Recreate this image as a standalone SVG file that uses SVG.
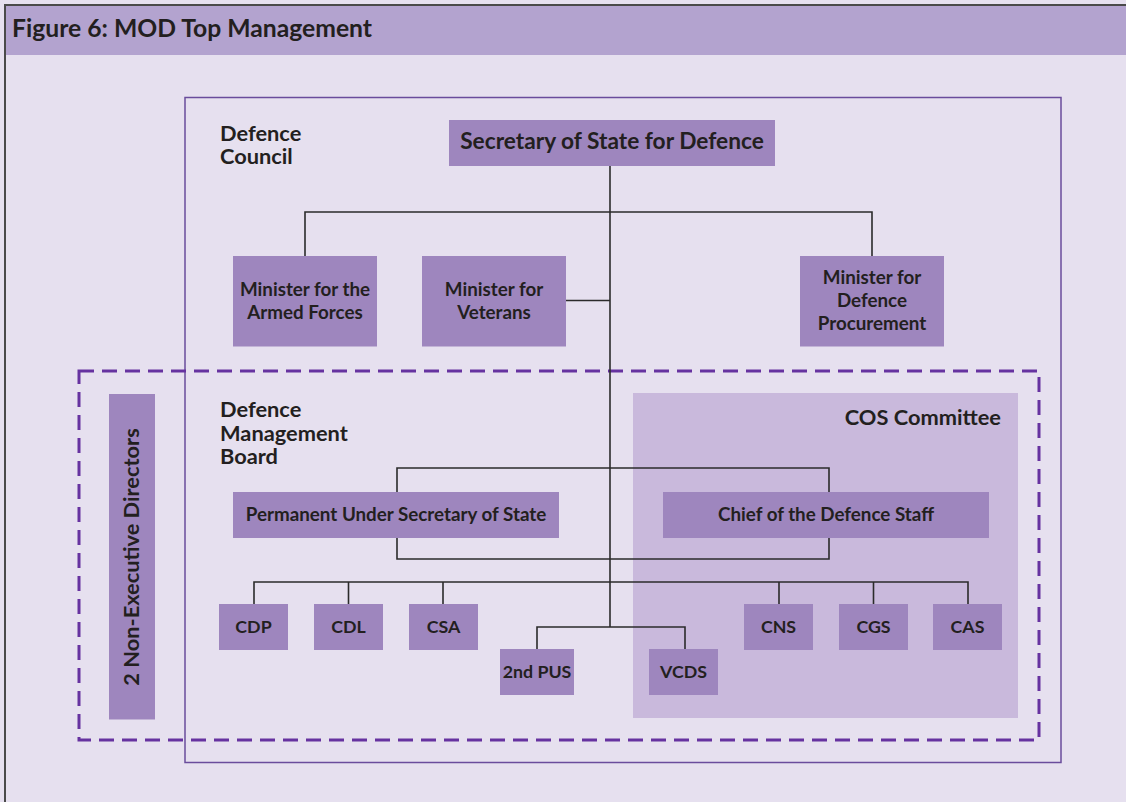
<svg xmlns="http://www.w3.org/2000/svg" width="1126" height="802" viewBox="0 0 1126 802">
<style>
.t{font-family:Lato,"Liberation Sans",sans-serif;font-weight:700;fill:#231F20}
.box{fill:#9E86BE}
.lbl{font-size:18.8px;text-anchor:middle}
.sm{font-size:17.8px;text-anchor:middle}
.grp{font-size:21.8px}
.conn{fill:none;stroke:#2b2b2b;stroke-width:1.6}
</style>
<rect x="0" y="0" width="1126" height="802" fill="#E6E0EF"/>
<rect x="5" y="5" width="1121" height="50" fill="#B3A3CF"/>
<path d="M5,802 V5 H1126" fill="none" stroke="#4a4a4a" stroke-width="2"/>
<text class="t" x="12" y="37" font-size="24.7">Figure 6: MOD Top Management</text>

<rect id="defence-council" x="185" y="97.5" width="876" height="665" fill="none" stroke="#6A4C9C" stroke-width="1.5"/>
<rect id="cos-area" x="633" y="393" width="385" height="325" fill="#C9B9DC"/>
<rect id="dmb" x="79" y="371" width="960" height="369" fill="none" stroke="#6632A0" stroke-width="3" stroke-dasharray="15 8"/>

<g id="labels">
<text class="t grp" x="220" y="141">Defence<tspan x="220" dy="23">Council</tspan></text>
<text class="t grp" x="220" y="417">Defence<tspan x="220" dy="24">Management</tspan><tspan x="220" dy="23">Board</tspan></text>
<text class="t grp" x="1001" y="425" text-anchor="end" font-size="22">COS Committee</text>
</g>

<g id="connectors" class="conn">
<path d="M610,166 V627"/>
<path d="M305,256 V212 H872 V256"/>
<path d="M566,300.5 H610"/>
<path d="M397,492 V468 H829 V492"/>
<path d="M397,538 V559 H829 V538"/>
<path d="M254,604 V582 H968 V604"/>
<path d="M348.5,582 V604 M443,582 V604 M779,582 V604 M873.5,582 V604"/>
<path d="M537,649 V627 H685 V649"/>
</g>

<g id="secretary"><rect class="box" x="449" y="120" width="326" height="46"/><text class="t" x="612" y="149" font-size="22.7" text-anchor="middle">Secretary of State for Defence</text></g>
<g id="min-armed"><rect class="box" x="233" y="256" width="144" height="90.5"/><text class="t lbl" x="305" y="296">Minister for the<tspan x="305" dy="23">Armed Forces</tspan></text></g>
<g id="min-veterans"><rect class="box" x="422" y="256" width="144" height="90.5"/><text class="t lbl" x="494" y="296">Minister for<tspan x="494" dy="23">Veterans</tspan></text></g>
<g id="min-procurement"><rect class="box" x="800" y="256" width="144" height="90.5"/><text class="t lbl" x="872" y="284">Minister for<tspan x="872" dy="23">Defence</tspan><tspan x="872" dy="23">Procurement</tspan></text></g>

<g id="non-exec"><rect class="box" x="109" y="394" width="46" height="325.5"/><text class="t" transform="translate(139,557) rotate(-90)" font-size="21.8" text-anchor="middle">2 Non-Executive Directors</text></g>

<g id="pus"><rect class="box" x="233" y="492" width="326" height="46"/><text class="t lbl" x="396" y="521">Permanent Under Secretary of State</text></g>
<g id="cds"><rect class="box" x="663" y="492" width="326" height="46"/><text class="t lbl" x="826" y="521" font-size="19">Chief of the Defence Staff</text></g>

<g id="cdp"><rect class="box" x="219" y="604" width="69" height="46"/><text class="t sm" x="253.5" y="633">CDP</text></g>
<g id="cdl"><rect class="box" x="314" y="604" width="69" height="46"/><text class="t sm" x="348.5" y="633">CDL</text></g>
<g id="csa"><rect class="box" x="409" y="604" width="69" height="46"/><text class="t sm" x="443.5" y="633">CSA</text></g>
<g id="cns"><rect class="box" x="744" y="604" width="69" height="46"/><text class="t sm" x="778.5" y="633">CNS</text></g>
<g id="cgs"><rect class="box" x="839" y="604" width="69" height="46"/><text class="t sm" x="873.5" y="633">CGS</text></g>
<g id="cas"><rect class="box" x="933" y="604" width="69" height="46"/><text class="t sm" x="967.5" y="633">CAS</text></g>
<g id="second-pus"><rect class="box" x="500" y="649" width="74" height="46"/><text class="t sm" x="537" y="678">2nd PUS</text></g>
<g id="vcds"><rect class="box" x="649" y="649" width="69" height="46"/><text class="t sm" x="683.5" y="678">VCDS</text></g>
</svg>
